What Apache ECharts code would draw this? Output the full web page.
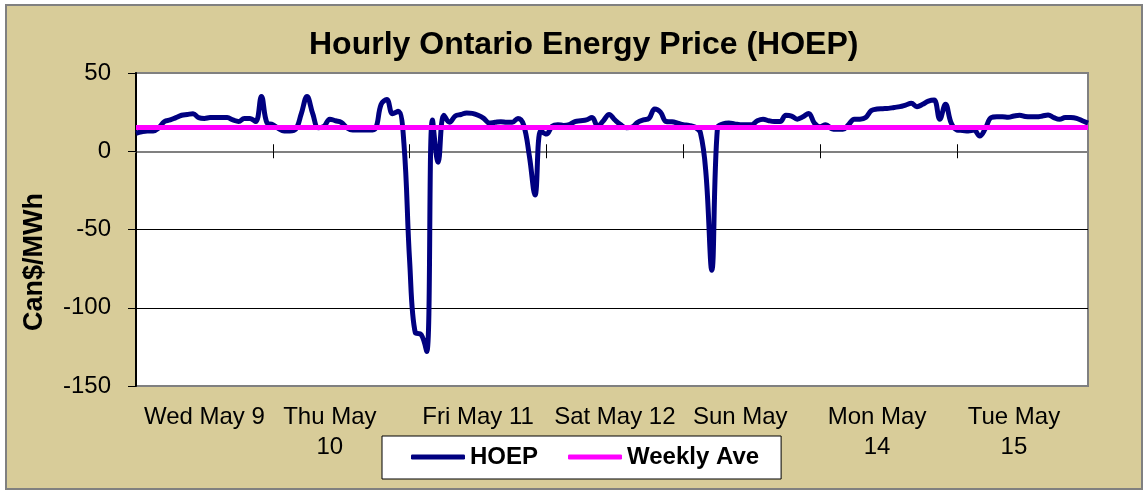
<!DOCTYPE html>
<html>
<head>
<meta charset="utf-8">
<title>HOEP</title>
<script src="https://cdn.jsdelivr.net/npm/echarts@6/dist/echarts.min.js"></script>
<style>
    html, body { margin: 0; padding: 0; background: #fff; }
    #main { width: 1148px; height: 494px; }
</style>
</head>
<body>
<div id="main"></div>
<script>
// tick labels (one per day)
var dayLabels = ['Wed May 9', 'Thu May\n10', 'Fri May 11', 'Sat May 12', 'Sun May\n13', 'Mon May\n14', 'Tue May\n15'];

// hourly price, Can$/MWh (168 hours, May 9 - May 15)
var hoep = [
    11.5, 12.5, 13, 13, 15, 19, 20, 21.5, 23, 23.5, 24, 21.5,
    21, 21.5, 21.5, 21.5, 21.5, 20, 19, 21, 21, 19, 35, 18,
    17, 14.5, 13, 13, 14, 24, 35, 24, 15, 16, 20.5, 19.5,
    18.5, 15, 13.5, 13.5, 13.5, 13.5, 14.5, 30, 33, 24, 25.5, 5,
    -70, -116, -117, -128, 20, -7, 23, 18.5, 22.5, 23.5, 24.5, 24.2,
    23, 21, 18, 18.5, 18.9, 18.5, 18.5, 21, 16.8, -3, -28, 13,
    11, 16, 17, 16.5, 17, 19, 19.5, 20, 21.5, 16, 19.5, 23.5,
    20, 17, 15, 15.5, 18.5, 20, 21, 27, 25, 19, 18.8, 18,
    17, 16.5, 15.5, 12, -15, -76, 15, 17.5, 18, 17.5, 17, 17,
    17, 19.5, 20.5, 19.5, 19, 19, 23, 22.5, 20.5, 22, 24.2, 18,
    15.7, 17, 14.5, 14, 14, 17, 20.5, 20.5, 21.5, 26, 27, 27.2,
    27.4, 28, 28.5, 29.5, 30.6, 28.5, 30, 32, 32.7, 20.5, 30, 18,
    13.6, 13.3, 13, 13.5, 9.7, 14.6, 21.5, 22, 22, 21.7, 22.5, 23,
    22.2, 22, 22, 22.5, 23.2, 21.5, 20.4, 21.5, 21.5, 21, 19.5, 18
];

// weekly average, Can$/MWh
var weeklyAve = 15.3;

var hours = [];
for (var i = 0; i < hoep.length; i++) {
    hours.push(dayLabels[Math.floor(i / 24)].replace('\n', ' ') + ' ' + (i % 24) + ':00');
}

var FONT = '"Liberation Sans", Arial, sans-serif';
var chart = echarts.init(document.getElementById('main'));

// wrapped (two line) labels sit a little left of the day centre, as in Excel
var labelAt = function(idx) {
    var day = Math.floor(idx / 24);
    if (day >= dayLabels.length) return false;
    var h = dayLabels[day].indexOf('\n') >= 0 ? 10 : 12;
    return idx % 24 === h;
};

chart.setOption({
    backgroundColor: '#ffffff',
    animation: false,
    graphic: [{
        type: 'rect',
        z: -10,
        silent: true,
        shape: { x: 6, y: 5, width: 1136, height: 484 },
        style: { fill: '#D8CC99', stroke: '#808080', lineWidth: 2 }
    }],
    title: {
        text: 'Hourly Ontario Energy Price (HOEP)',
        left: 309,
        top: 29,
        padding: 0,
        textStyle: { fontFamily: FONT, fontSize: 32, fontWeight: 'bold', color: '#000' }
    },
    legend: {
        left: 382,
        top: 436,
        padding: [9, 22, 10, 29],
        itemGap: 30,
        itemWidth: 54,
        itemHeight: 5,
        icon: 'roundRect',
        backgroundColor: '#ffffff',
        borderColor: '#000',
        borderWidth: 1,
        borderRadius: 0,
        textStyle: { fontFamily: FONT, fontSize: 24, fontWeight: 'bold', color: '#000' },
        data: ['HOEP', 'Weekly Ave']
    },
    grid: {
        left: 136,
        right: 60,
        top: 73,
        bottom: 108,
        show: true,
        backgroundColor: '#ffffff',
        borderColor: '#808080',
        borderWidth: 2
    },
    xAxis: [{
        // day labels along the bottom of the plot
        type: 'category',
        data: hours,
        boundaryGap: false,
        position: 'bottom',
        axisLine: { show: false, onZero: false },
        axisTick: { show: false },
        splitLine: { show: false },
        axisLabel: {
            interval: labelAt,
            formatter: function(v, idx) { return dayLabels[Math.floor(idx / 24)]; },
            margin: 16,
            fontFamily: FONT,
            fontSize: 24,
            lineHeight: 30,
            color: '#000'
        }
    }, {
        // axis line at zero, ticks below
        type: 'category',
        data: hours,
        boundaryGap: false,
        position: 'bottom',
        axisLine: { show: true, onZero: true, onZeroAxisIndex: 0, lineStyle: { color: '#808080', width: 2 } },
        axisTick: { show: true, interval: 23, length: 7, lineStyle: { color: '#000', width: 1 } },
        axisLabel: { show: false },
        splitLine: { show: false }
    }, {
        // ticks above the zero line
        type: 'category',
        data: hours,
        boundaryGap: false,
        position: 'top',
        axisLine: { show: false, onZero: true, onZeroAxisIndex: 0 },
        axisTick: { show: true, interval: 23, length: 7, lineStyle: { color: '#000', width: 1 } },
        axisLabel: { show: false },
        splitLine: { show: false }
    }],
    yAxis: {
        type: 'value',
        min: -150,
        max: 50,
        interval: 50,
        name: 'Can$/MWh',
        nameLocation: 'middle',
        nameGap: 88,
        nameTextStyle: {
            fontFamily: FONT, fontSize: 27, fontWeight: 'bold', color: '#000',
            padding: [0, 65, 0, 0]
        },
        axisLine: { show: true, lineStyle: { color: '#000', width: 2 } },
        axisTick: { show: true, length: 8, lineStyle: { color: '#000', width: 1 } },
        axisLabel: { margin: 25, fontFamily: FONT, fontSize: 24, color: '#000' },
        splitLine: {
            show: true,
            lineStyle: { color: ['#808080', '#000', '#000', '#808080', '#808080'], width: 1 }
        }
    },
    series: [{
        name: 'HOEP',
        type: 'line',
        xAxisIndex: 0,
        data: hoep,
        smooth: 0.4,
        symbol: 'none',
        z: 3,
        itemStyle: { color: '#000080' },
        lineStyle: { color: '#000080', width: 5 }
    }, {
        name: 'Weekly Ave',
        type: 'line',
        xAxisIndex: 0,
        data: [],
        symbol: 'none',
        z: 4,
        itemStyle: { color: '#FF00FF' },
        lineStyle: { color: '#FF00FF', width: 5 },
        markLine: {
            silent: true,
            symbol: 'none',
            label: { show: false },
            lineStyle: { color: '#FF00FF', width: 5, type: 'solid' },
            data: [{ yAxis: weeklyAve }]
        }
    }]
});

window.addEventListener('resize', function() {
    chart.resize();
});
</script>
</body>
</html>
